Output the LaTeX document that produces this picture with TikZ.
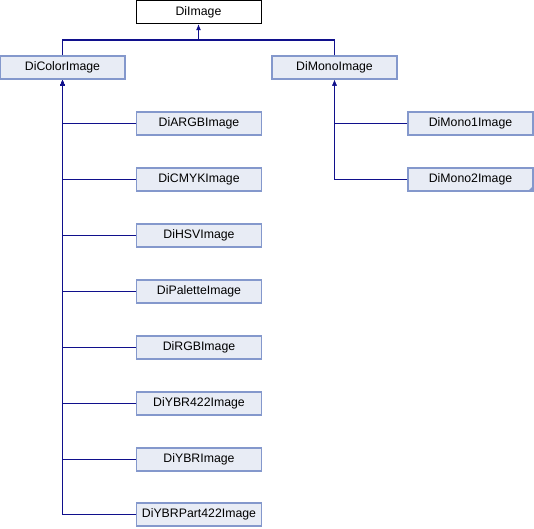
\documentclass[tikz,border=0pt]{standalone}
\usepackage{fontspec}
\setmainfont{Liberation Sans}
\usetikzlibrary{arrows.meta}
\definecolor{boxfill}{RGB}{232,236,245}
\definecolor{boxline}{RGB}{132,152,204}
\definecolor{edgecol}{RGB}{16,16,140}
\tikzset{
  x=1pt,y=-1pt,
  cls/.style={draw=boxline,fill=boxfill,line width=1.2pt,minimum width=125pt,minimum height=23pt,inner sep=0pt,font=\fontsize{12.3}{14}\selectfont},
  rootcls/.style={cls,draw=black,fill=white,line width=1pt},
  inh/.style={draw=edgecol,line width=1.2pt,-{Latex[length=6pt,width=5pt]}},
}
\begin{document}
\begin{tikzpicture}
\useasboundingbox (0,0) rectangle (534,528);
\node[rootcls] (root) at (198.5,12) {DiImage};
\node[cls] (color) at (62.5,67.5) {DiColorImage};
\node[cls] (mono) at (334.5,67.5) {DiMonoImage};
\node[cls] (argb) at (199,123.5) {DiARGBImage};
\node[cls] (cmyk) at (199,179.5) {DiCMYKImage};
\node[cls] (hsv) at (199,235.5) {DiHSVImage};
\node[cls] (pal) at (199,291.5) {DiPaletteImage};
\node[cls] (rgb) at (199,347.5) {DiRGBImage};
\node[cls] (ybr422) at (199,403.5) {DiYBR422Image};
\node[cls] (ybr) at (199,459.5) {DiYBRImage};
\node[cls] (ybrp) at (199,514.5) {DiYBRPart422Image};
\node[cls] (mono1) at (470.5,123.5) {DiMono1Image};
\node[cls] (mono2) at (470.5,179.5) {DiMono2Image};
\fill[boxline] (mono2.south east) -- ++(-6,0) -- ++(6,-6) -- cycle;
\coordinate (j) at (198.5,40);
\draw[edgecol,line width=1.2pt] (color.north) |- (j);
\draw[edgecol,line width=1.2pt] (mono.north) |- (j);
\draw[inh] (j) -- (root.south);
\foreach \c in {argb,cmyk,hsv,pal,rgb,ybr422,ybr,ybrp}
  \draw[inh] (\c.west) -| (color.south);
\foreach \c in {mono1,mono2}
  \draw[inh] (\c.west) -| (mono.south);
\end{tikzpicture}
\end{document}
